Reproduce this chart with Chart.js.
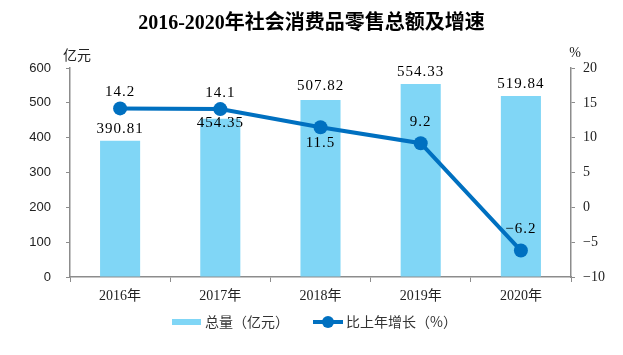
<!DOCTYPE html>
<html>
<head>
<meta charset="utf-8">
<script src="https://cdn.jsdelivr.net/npm/chart.js@4/dist/chart.umd.min.js"></script>
<style>
  html, body { margin: 0; padding: 0; background: #fff; }
  #wrap { width: 623px; height: 355px; position: relative; }
</style>
</head>
<body>
<div id="wrap"><canvas id="c" width="623" height="355"></canvas></div>
<script>
// ---- data ----
const titleText = '2016-2020年社会消费品零售总额及增速';
const categories = ['2016年', '2017年', '2018年', '2019年', '2020年'];
const totalValues = [390.81, 454.35, 507.82, 554.33, 519.84];
const growthValues = [14.2, 14.1, 11.5, 9.2, -6.2];
const seriesNames = ['总量（亿元）', '比上年增长（%）'];
const leftAxisUnit = '亿元';
const rightAxisUnit = '%';
const leftTicks = [0, 100, 200, 300, 400, 500, 600];
const rightTicks = [-10, -5, 0, 5, 10, 15, 20];

// ---- label placement (pixel offsets from mark, style only) ----
const barLabelOffsets = [-12, 4, -14, -12, -12];
const lineLabelOffsets = [-16, -16, 16, -21, -21];

const BAR_COLOR = '#80D6F6';
const LINE_COLOR = '#0070C0';
const SERIF = '"Liberation Serif", "Noto Sans CJK SC", serif';
const SANS = '"Liberation Sans", "Noto Sans CJK SC", sans-serif';
const CJK = '"Noto Sans CJK SC", sans-serif';

function fmt(v) { return String(v).replace('-', '\u2212'); }

const decorPlugin = {
  id: 'decor',
  afterDatasetsDraw(chart) {
    const ctx = chart.ctx;
    const area = chart.chartArea;
    ctx.save();
    // title
    ctx.fillStyle = '#000';
    ctx.font = 'bold 20px ' + SERIF;
    ctx.textAlign = 'center';
    ctx.textBaseline = 'middle';
    ctx.fillText(titleText, chart.width / 2, 24);
    // axis units
    ctx.font = '14px ' + CJK;
    ctx.fillStyle = '#222';
    ctx.fillText(leftAxisUnit, area.left + 7, 55);
    ctx.font = '14px ' + SERIF;
    ctx.fillText(rightAxisUnit, area.right + 4, 53);

    // data labels
    ctx.fillStyle = '#000';
    ctx.font = '15px ' + SERIF;
    try { ctx.letterSpacing = '1px'; } catch (e) {}
    const barMeta = chart.getDatasetMeta(1);
    barMeta.data.forEach((el, i) => {
      ctx.fillText(fmt(totalValues[i].toFixed(2)), el.x, el.y + barLabelOffsets[i]);
    });
    const lineMeta = chart.getDatasetMeta(0);
    lineMeta.data.forEach((el, i) => {
      ctx.fillText(fmt(growthValues[i].toFixed(1)), el.x, el.y + lineLabelOffsets[i]);
    });
    try { ctx.letterSpacing = '0px'; } catch (e) {}

    // legend
    const ly = 322;
    ctx.fillStyle = BAR_COLOR;
    ctx.fillRect(172, ly - 3, 29, 6);
    ctx.fillStyle = '#333';
    ctx.font = '14px ' + CJK;
    ctx.textAlign = 'left';
    ctx.fillText(seriesNames[0], 205, ly);
    ctx.strokeStyle = LINE_COLOR;
    ctx.lineWidth = 4;
    ctx.beginPath();
    ctx.moveTo(313, ly);
    ctx.lineTo(343, ly);
    ctx.stroke();
    ctx.fillStyle = LINE_COLOR;
    ctx.beginPath();
    ctx.arc(328, ly, 6, 0, Math.PI * 2);
    ctx.fill();
    ctx.fillStyle = '#333';
    ctx.fillText(seriesNames[1], 346, ly);
    ctx.restore();
  }
};

new Chart(document.getElementById('c'), {
  type: 'bar',
  data: {
    labels: categories,
    datasets: [
      {
        type: 'line',
        label: seriesNames[1],
        data: growthValues,
        yAxisID: 'y1',
        borderColor: LINE_COLOR,
        backgroundColor: LINE_COLOR,
        borderWidth: 4,
        pointRadius: 7,
        pointBorderWidth: 0,
        pointBackgroundColor: LINE_COLOR,
        tension: 0,
        order: 0
      },
      {
        type: 'bar',
        label: seriesNames[0],
        data: totalValues,
        yAxisID: 'y',
        backgroundColor: BAR_COLOR,
        barPercentage: 0.4,
        categoryPercentage: 1.0,
        order: 1
      }
    ]
  },
  options: {
    responsive: false,
    animation: false,
    devicePixelRatio: 1,
    layout: { padding: { top: 68, left: 0, right: 0, bottom: 0 } },
    plugins: {
      legend: { display: false },
      title: { display: false },
      tooltip: { enabled: false }
    },
    scales: {
      x: {
        grid: { display: true, drawOnChartArea: false, drawTicks: true, tickLength: 5, color: '#8c8c8c', offset: true },
        border: { display: true, color: '#8c8c8c', width: 1.5 },
        ticks: { color: '#222', font: { family: SERIF, size: 14 }, padding: 6 },
        afterFit(scale) { scale.height = 78; }
      },
      y: {
        position: 'left',
        min: leftTicks[0],
        max: leftTicks[leftTicks.length - 1],
        afterBuildTicks(scale) { scale.ticks = leftTicks.map(v => ({ value: v })); },
        grid: { display: true, drawOnChartArea: false, drawTicks: true, tickLength: 4, color: '#8c8c8c' },
        border: { display: true, color: '#8c8c8c', width: 1.5 },
        ticks: { color: '#222', font: { family: SANS, size: 13 }, padding: 15 },
        afterFit(scale) { scale.width = 70; }
      },
      y1: {
        position: 'right',
        min: rightTicks[0],
        max: rightTicks[rightTicks.length - 1],
        afterBuildTicks(scale) { scale.ticks = rightTicks.map(v => ({ value: v })); },
        grid: { display: true, drawOnChartArea: false, drawTicks: true, tickLength: 4, color: '#8c8c8c' },
        border: { display: true, color: '#8c8c8c', width: 1.5 },
        ticks: { color: '#222', font: { family: SERIF, size: 14 }, padding: 8, callback: v => fmt(v) },
        afterFit(scale) { scale.width = 52; }
      }
    }
  },
  plugins: [decorPlugin]
});
</script>
</body>
</html>
